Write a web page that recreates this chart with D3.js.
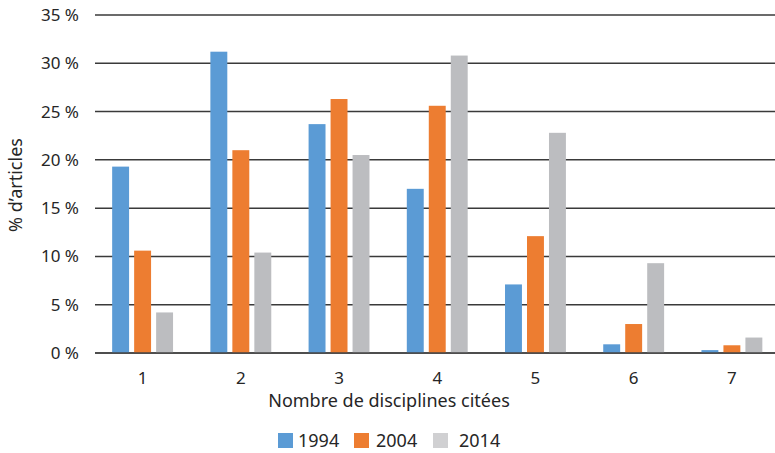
<!DOCTYPE html>
<html><head><meta charset="utf-8">
<script src="https://cdn.jsdelivr.net/npm/d3@7"></script>
<style>body{margin:0;background:#fff}svg{display:block}text{font-family:"Noto Sans",sans-serif;fill:#262626}</style>
</head><body><svg id="c" width="775" height="453"></svg>
<script>
const categories = ["1","2","3","4","5","6","7"];
const seriesNames = ["1994","2004","2014"];
const v1994 = [19.3, 31.2, 23.7, 17.0, 7.1, 0.9, 0.3];
const v2004 = [10.6, 21.0, 26.3, 25.6, 12.1, 3.0, 0.8];
const v2014 = [4.2, 10.4, 20.5, 30.8, 22.8, 9.3, 1.6];
const yTicks = [0,5,10,15,20,25,30,35];
const colors = ["#5b9bd5","#ed7d31","#bcbdc0"];
const legendColors = ["#5b9bd5","#ed7d31","#d0d0d2"];

const series = [v1994, v2004, v2014];
const svg = d3.select("#c");
const x0 = d3.scaleBand().domain(categories).range([93.5, 781]).paddingInner(0.38).paddingOuter(0.19);
const x1 = d3.scaleBand().domain(seriesNames).range([0, x0.bandwidth()]).paddingInner(0.23);
const y = d3.scaleLinear().domain([0,35]).range([353, 15]);

svg.append("g").selectAll("line").data(yTicks).join("line")
  .attr("x1", 95).attr("x2", 775)
  .attr("y1", d=>y(d)).attr("y2", d=>y(d))
  .attr("stroke", "#3a3a3a").attr("stroke-width", 1.5);

svg.append("g").selectAll("text").data(yTicks).join("text")
  .attr("x", 79).attr("y", d=>y(d)).attr("dy","0.35em")
  .attr("text-anchor","end").attr("font-size",17)
  .text(d=>d+" %");

seriesNames.forEach((s,i)=>{
  svg.append("g").selectAll("rect").data(series[i]).join("rect")
    .attr("x",(d,j)=>x0(categories[j])+x1(s))
    .attr("width",x1.bandwidth())
    .attr("y",d=>y(d)).attr("height",d=>y(0)-y(d))
    .attr("fill",colors[i]);
});
svg.append("line").attr("x1",95).attr("x2",775).attr("y1",y(0)).attr("y2",y(0))
  .attr("stroke","#444").attr("stroke-width",1.5);

svg.append("g").selectAll("text").data(categories).join("text")
  .attr("x",d=>x0(d)+x0.bandwidth()/2).attr("y",384)
  .attr("text-anchor","middle").attr("font-size",17).text(d=>d);

svg.append("text").attr("x",389).attr("y",407).attr("text-anchor","middle")
  .attr("font-size",18).text("Nombre de disciplines citées");

svg.append("text").attr("transform","translate(22,185) rotate(-90)")
  .attr("text-anchor","middle").attr("font-size",18).text("% d’articles");

const legX = [278, 354, 433];
const legTX = [298, 376, 459];
seriesNames.forEach((s,i)=>{
  svg.append("rect").attr("x",legX[i]).attr("y",433).attr("width",15).attr("height",15).attr("fill",legendColors[i]);
  svg.append("text").attr("x",legTX[i]).attr("y",441).attr("dy","0.35em").attr("font-size",18).text(s);
});
</script></body></html>
